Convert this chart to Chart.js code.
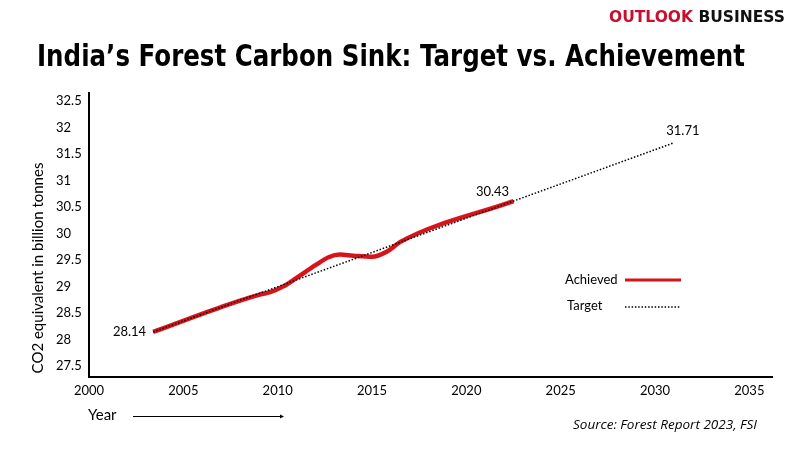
<!DOCTYPE html>
<html>
<head>
<meta charset="utf-8">
<script src="https://cdn.jsdelivr.net/npm/chart.js@4.4.0/dist/chart.umd.min.js"></script>
<style>
  html, body { margin: 0; padding: 0; background: #fff; }
  #wrap { position: relative; width: 801px; height: 450px; }
</style>
</head>
<body>
<div id="wrap"><canvas id="chart" width="801" height="450"></canvas></div>
<script>
// data
var achievedYears = [2003.4, 2007, 2009, 2009.6, 2010.3, 2011, 2012, 2012.7, 2013.3, 2014, 2015, 2015.8, 2016.5, 2022.5];
var achievedValues = [28.14, 28.61, 28.84, 28.89, 29.0, 29.16, 29.40, 29.55, 29.60, 29.58, 29.56, 29.66, 29.84, 30.61];
var targetYears = [2003.4, 2031];
var targetValues = [28.14, 31.71];
var labelYears = [2003.4, 2022.5, 2031];
var labelValues = [28.14, 30.61, 31.71];
var labelTexts = ["28.14", "30.43", "31.71"];
var yTicks = [27.5, 28, 28.5, 29, 29.5, 30, 30.5, 31, 31.5, 32, 32.5];
var xTicks = [2000, 2005, 2010, 2015, 2020, 2025, 2030, 2035];

var RED = "#d7141a";
// where each value label sits relative to its point
var labelOffsets = [[-7, 0, "right"], [-21, -9, "center"], [9, -12, "center"]];

function pts(xs, ys) {
  return xs.map(function(x, i) { return { x: x, y: ys[i] }; });
}

function fitText(ctx, text, x, y, width) {
  var w = ctx.measureText(text).width;
  ctx.save();
  ctx.translate(x, y);
  ctx.scale(width / w, 1);
  ctx.fillText(text, 0, 0);
  ctx.restore();
}

var extras = {
  id: "extras",
  afterDraw: function(chart) {
    var ctx = chart.ctx, xs = chart.scales.x, ys = chart.scales.y;
    ctx.save();
    ctx.textBaseline = "middle";
    // brand
    ctx.font = "bold 16px 'DejaVu Sans'";
    ctx.textAlign = "left";
    var w1 = ctx.measureText("OUTLOOK ").width;
    var w2 = ctx.measureText("BUSINESS").width;
    var k = 176 / (w1 + w2);
    ctx.save();
    ctx.translate(609, 18);
    ctx.scale(k, 1);
    ctx.fillStyle = "#c8102e";
    ctx.fillText("OUTLOOK ", 0, 0);
    ctx.fillStyle = "#111";
    ctx.fillText("BUSINESS", w1, 0);
    ctx.restore();
    // title
    ctx.fillStyle = "#000";
    ctx.textAlign = "left";
    ctx.font = "bold 31px 'DejaVu Sans'";
    fitText(ctx, "India\u2019s Forest Carbon Sink: Target vs. Achievement", 37, 58, 708);
    // y title
    ctx.textAlign = "center";
    ctx.save();
    ctx.translate(38, 268);
    ctx.rotate(-Math.PI / 2);
    ctx.font = "15px Lato";
    ctx.fillText("CO2 equivalent in billion tonnes", 0, 0);
    ctx.restore();
    // point labels
    ctx.font = "13px Lato";
    labelTexts.forEach(function(t, i) {
      var px = xs.getPixelForValue(labelYears[i]), py = ys.getPixelForValue(labelValues[i]);
      var o = labelOffsets[i];
      ctx.textAlign = o[2];
      ctx.fillText(t, px + o[0], py + o[1]);
    });
    // legend
    ctx.textAlign = "left";
    ctx.font = "13px Lato";
    ctx.fillText("Achieved", 565, 280);
    ctx.fillText("Target", 567, 306);
    ctx.strokeStyle = RED;
    ctx.lineWidth = 3;
    ctx.beginPath(); ctx.moveTo(625, 280); ctx.lineTo(681, 280); ctx.stroke();
    ctx.strokeStyle = "#000";
    ctx.lineWidth = 1.5;
    ctx.setLineDash([1.5, 1.8]);
    ctx.beginPath(); ctx.moveTo(625, 307); ctx.lineTo(681, 307); ctx.stroke();
    ctx.setLineDash([]);
    // Year arrow
    ctx.font = "15px Lato";
    ctx.fillText("Year", 88, 415);
    ctx.lineWidth = 1;
    ctx.beginPath(); ctx.moveTo(133, 416.5); ctx.lineTo(283, 416.5); ctx.stroke();
    ctx.beginPath(); ctx.moveTo(284, 416.5); ctx.lineTo(280, 414.5); ctx.lineTo(280, 418.5); ctx.closePath(); ctx.fill();
    // source
    ctx.textAlign = "left";
    ctx.font = "italic 13px 'Open Sans'";
    fitText(ctx, "Source: Forest Report 2023, FSI", 573, 425, 184);
    ctx.restore();
  }
};

window.addEventListener("load", function() {
  window.chart = new Chart(document.getElementById("chart").getContext("2d"), {
    type: "line",
    data: {
      datasets: [
        {
          label: "Target",
          data: pts(targetYears, targetValues),
          borderColor: "#000",
          borderWidth: 1.5,
          borderDash: [1.5, 1.8],
          pointRadius: 0,
          fill: false
        },
        {
          label: "Achieved",
          data: pts(achievedYears, achievedValues),
          borderColor: RED,
          borderWidth: 4.5,
          cubicInterpolationMode: "monotone",
          pointRadius: 0,
          fill: false
        }
      ]
    },
    options: {
      responsive: false,
      animation: false,
      layout: { padding: { left: 56, right: 29, top: 93, bottom: 0 } },
      plugins: { legend: { display: false }, tooltip: { enabled: false } },
      scales: {
        x: {
          type: "linear",
          min: 2000,
          max: 2036.2,
          grid: { display: false, drawTicks: false },
          border: { color: "#000", width: 2 },
          ticks: {
            color: "#000", font: { family: "Lato", size: 13 }, padding: 6, maxRotation: 0,
            callback: function(v) { return String(v); }
          },
          afterBuildTicks: function(s) { s.ticks = xTicks.map(function(v) { return { value: v }; }); },
          afterFit: function(s) { s.height = 73; }
        },
        y: {
          min: 27.29,
          max: 32.65,
          grid: { display: false, drawTicks: false },
          border: { color: "#000", width: 2 },
          ticks: {
            color: "#000", font: { family: "Lato", size: 13 }, crossAlign: "far", padding: 0,
            callback: function(v) { return String(v); }
          },
          afterBuildTicks: function(s) { s.ticks = yTicks.map(function(v) { return { value: v }; }); },
          afterFit: function(s) { s.width = 33; }
        }
      }
    },
    plugins: [extras]
  });
});
</script>
</body>
</html>
